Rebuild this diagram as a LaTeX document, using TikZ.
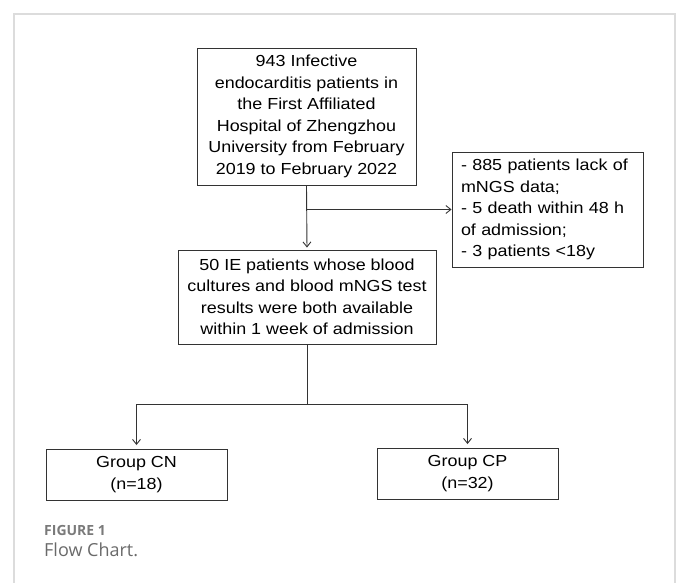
\documentclass[tikz,border=0pt]{standalone}
\usepackage{fontspec}
\usetikzlibrary{arrows.meta}
\newfontfamily\arialx[FakeStretch=1.12]{Liberation Sans}
\newfontfamily\capfont{Open Sans}
\definecolor{linecol}{HTML}{333333}
\definecolor{framecol}{HTML}{DCDCDC}
\definecolor{capgray}{HTML}{7A7A7A}
\definecolor{capgrayb}{HTML}{6A6A6A}
\tikzset{
  box/.style={draw=linecol, line width=0.9pt, rectangle, inner sep=0pt, align=center,
    font={\arialx\fontsize{16pt}{21.5pt}\selectfont}, text=black},
  arr/.style={draw=linecol, line width=0.9pt, -{Straight Barb[length=5pt,width=8pt]}},
  conn/.style={draw=linecol, line width=0.9pt},
}
\begin{document}
\begin{tikzpicture}[x=1pt,y=-1pt]
\useasboundingbox (0,0) rectangle (678,582);
\draw[framecol, line width=2pt] (14,590) -- (14,14) -- (675,14) -- (675,590);

\node[box, minimum width=219pt, minimum height=137pt] (top) at (306.5,116.5)
  {943 Infective\\endocarditis patients in\\the First Affiliated\\Hospital of Zhengzhou\\University from February\\2019 to February 2022};
\node[box, minimum width=191pt, minimum height=115pt, align=left, text width=173pt, inner xsep=9pt] (excl) at (547.5,209.5)
  {- 885 patients lack of\\mNGS data;\\- 5 death within 48 h\\of admission;\\- 3 patients <18y};
\node[box, minimum width=258pt, minimum height=94pt] (mid) at (307,297)
  {50 IE patients whose blood\\cultures and blood mNGS test\\results were both available\\within 1 week of admission};
\node[box, minimum width=181pt, minimum height=51pt] (cn) at (136.5,474.5)
  {Group CN\\(n=18)};
\node[box, minimum width=181pt, minimum height=51pt] (cp) at (467.5,473.5)
  {Group CP\\(n=32)};

\coordinate (br) at (top.south |- excl.west);
\coordinate (split) at (307,404);

\draw[arr, shorten >=2pt] (top.south) -- (mid.north);
\draw[arr] (br) -- (excl.west);
\draw[conn] (mid.south) -- (split);
\draw[arr, shorten >=3.5pt] (split) -| (cn.north);
\draw[arr, shorten >=3.5pt] (split) -| (cp.north);

\node[anchor=base west, inner sep=0pt, text=capgray, font={\capfont\bfseries\fontsize{14pt}{16pt}\selectfont}] (figlab) at (44,535) {FIGURE 1};
\node[anchor=base west, inner sep=0pt, text=capgrayb, font={\capfont\fontsize{18pt}{20pt}\selectfont}] (figcap) at (44,556) {Flow Chart.};
\end{tikzpicture}
\end{document}
